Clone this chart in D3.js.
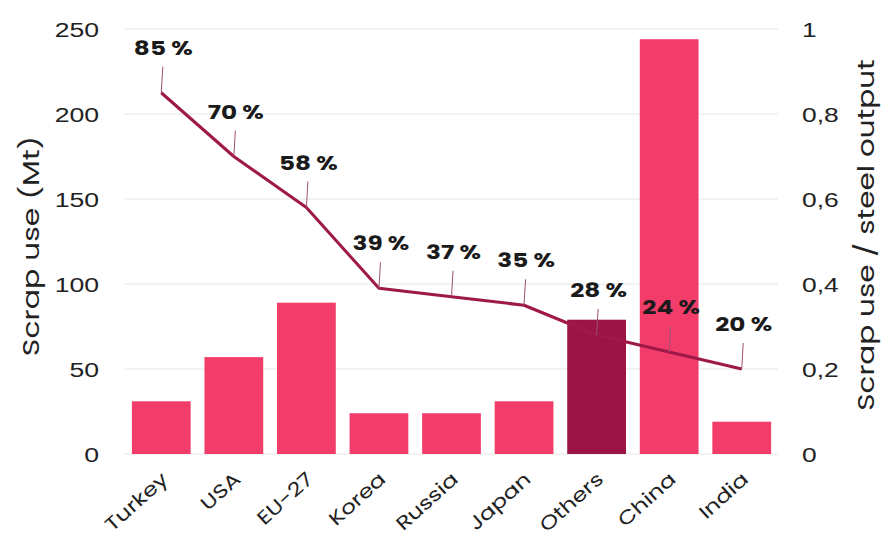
<!DOCTYPE html>
<html>
<head>
<meta charset="utf-8">
<script src="https://cdn.jsdelivr.net/npm/d3@7/dist/d3.min.js"></script>
<style>
  body { margin: 0; background: #fff; }
  svg { display: block; font-family: "Poppins", "Inter", "Open Sans", sans-serif; }
</style>
</head>
<body>
<svg id="chart" width="883" height="539"></svg>
<script>
const categories = ["Turkey", "USA", "EU-27", "Korea", "Russia", "Japan", "Others", "China", "India"];
const scrapUse = [31, 57, 89, 24, 24, 31, 79, 244, 19];
const ratio = [0.85, 0.70, 0.58, 0.39, 0.37, 0.35, 0.28, 0.24, 0.20];
const ratioLabels = ["85 %", "70 %", "58 %", "39 %", "37 %", "35 %", "28 %", "24 %", "20 %"];
const leftTicks = [0, 50, 100, 150, 200, 250];
const rightTicks = [0, 0.2, 0.4, 0.6, 0.8, 1];
const rightTickLabels = ["0", "0,2", "0,4", "0,6", "0,8", "1"];
const highlight = "Others";

const svg = d3.select("#chart");
const m = { left: 125, right: 105, top: 29, bottom: 85 };
const W = 883, H = 539;
const x = d3.scaleBand().domain(categories).range([m.left, W - m.right]).paddingInner(0.19).paddingOuter(0.095);
const yL = d3.scaleLinear().domain([0, 250]).range([H - m.bottom, m.top]);
const yR = d3.scaleLinear().domain([0, 1]).range([H - m.bottom, m.top]);

function widen(sel, f) {
  sel.each(function () {
    const L = this.getComputedTextLength();
    this.setAttribute("textLength", L * f);
    this.setAttribute("lengthAdjust", "spacingAndGlyphs");
  });
}

// gridlines
svg.append("g").selectAll("line").data(leftTicks).join("line")
  .attr("x1", m.left).attr("x2", W - m.right)
  .attr("y1", d => yL(d)).attr("y2", d => yL(d))
  .attr("stroke", "#e6e6e6").attr("stroke-width", 1);

// left axis
const axL = svg.append("g").attr("transform", `translate(${m.left - 26},0)`)
  .call(d3.axisLeft(yL).tickValues(leftTicks).tickSize(0).tickPadding(0));
axL.select(".domain").remove();
axL.selectAll("text").attr("font-size", 20).attr("fill", "#222").attr("dy", "0.35em").call(widen, 1.33);

// right axis
const axR = svg.append("g").attr("transform", `translate(${W - m.right + 24},0)`)
  .call(d3.axisRight(yR).tickValues(rightTicks).tickFormat((d, i) => rightTickLabels[i]).tickSize(0).tickPadding(0));
axR.select(".domain").remove();
axR.selectAll("text").attr("font-size", 20).attr("fill", "#222").attr("dy", "0.35em").call(widen, 1.32);

// bars
svg.append("g").selectAll("rect").data(categories).join("rect")
  .attr("x", d => x(d)).attr("width", x.bandwidth())
  .attr("y", (d, i) => yL(scrapUse[i]))
  .attr("height", (d, i) => yL(0) - yL(scrapUse[i]))
  .attr("fill", d => d === highlight ? "#9c1446" : "#f23d6b");

// line
const cx = d => x(d) + x.bandwidth() / 2;
const line = d3.line().x((d, i) => cx(categories[i])).y(d => yR(d));
svg.append("path").datum(ratio).attr("d", line)
  .attr("fill", "none").attr("stroke", "#9e1848").attr("stroke-width", 3).attr("stroke-linejoin", "round");

// leaders and labels
const lab = svg.append("g");
categories.forEach((c, i) => {
  const px = cx(c), py = yR(ratio[i]);
  lab.append("line").attr("x1", px).attr("x2", px + 1.5).attr("y1", py).attr("y2", py - 26)
    .attr("stroke", "#a35070").attr("stroke-width", 1);
  lab.append("text").attr("x", px + 2).attr("y", py - 38)
    .attr("text-anchor", "middle").attr("font-size", 19).attr("font-weight", 700).attr("fill", "#1a1a1a")
    .text(ratioLabels[i]).call(widen, 1.3);
});

// x labels
svg.append("g").selectAll("text").data(categories).join("text")
  .attr("transform", d => `translate(${cx(d) - 1},${H - m.bottom + 17}) rotate(-42)`)
  .attr("text-anchor", "end").attr("dy", "0.7em")
  .attr("font-size", 19).attr("fill", "#222").text(d => d).call(widen, 1.24);

// axis titles
svg.append("text").attr("transform", `translate(31,246) rotate(-90)`)
  .attr("text-anchor", "middle").attr("dy", "0.35em").attr("font-size", 23).attr("fill", "#222")
  .text("Scrap use (Mt)").call(widen, 1.3);
svg.append("text").attr("transform", `translate(866,235) rotate(-90)`)
  .attr("text-anchor", "middle").attr("dy", "0.35em").attr("font-size", 23).attr("fill", "#222")
  .text("Scrap use / steel output").call(widen, 1.28);
</script>
</body>
</html>
